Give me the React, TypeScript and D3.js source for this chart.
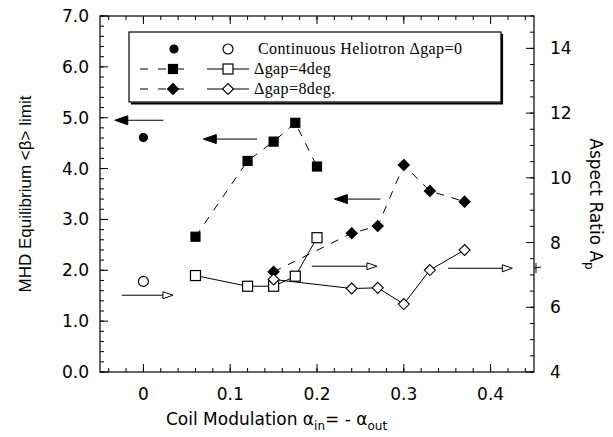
import * as d3 from "d3";
import { useEffect, useRef } from "react";

// coil modulation values for each configuration
const xHelio = [0];
const betaHelio = [4.61];
const aspectHelio = [6.8];

const xGap4 = [0.06, 0.12, 0.15, 0.175, 0.2];
const betaGap4 = [2.66, 4.15, 4.53, 4.9, 4.04];
const aspectGap4 = [6.98, 6.65, 6.65, 6.96, 8.15];

const xGap8 = [0.15, 0.24, 0.27, 0.3, 0.33, 0.37];
const betaGap8 = [1.97, 2.73, 2.87, 4.07, 3.56, 3.35];
const aspectGap8 = [6.86, 6.58, 6.6, 6.1, 7.15, 7.77];

const xTicks = [0, 0.1, 0.2, 0.3, 0.4];
const xTickLabels = ["0", "0.1", "0.2", "0.3", "0.4"];
const leftTicks = [0, 1, 2, 3, 4, 5, 6, 7];
const leftTickLabels = ["0.0", "1.0", "2.0", "3.0", "4.0", "5.0", "6.0", "7.0"];
const rightTicks = [4, 6, 8, 10, 12, 14];

// annotation arrows (x from, x to, beta level); "left" = filled head -> beta axis, "right" = open head -> aspect axis
const arrowFrom = [0.023, 0.131, 0.273, -0.025, 0.194, 0.351];
const arrowTo = [-0.033, 0.069, 0.22, 0.034, 0.269, 0.425];
const arrowLevel = [4.95, 4.58, 3.4, 1.51, 2.08, 2.04];
const arrowKind = ["left", "left", "left", "right", "right", "right"];

export default function App() {
  const ref = useRef<SVGSVGElement | null>(null);

  useEffect(() => {
    const svg = d3.select(ref.current);
    svg.selectAll("*").remove();

    const left = 100,
      right = 534,
      top = 16,
      bottom = 372;
    const x = d3.scaleLinear().domain([-0.05, 0.45]).range([left, right]);
    const yL = d3.scaleLinear().domain([0, 7]).range([bottom, top]);
    const yR = d3.scaleLinear().domain([4, 15]).range([bottom, top]);

    const sans = "'DejaVu Sans', sans-serif";
    const sans2 = "'Liberation Sans', Arial, sans-serif";
    const serif = "'Liberation Serif', 'Times New Roman', serif";

    svg.append("rect").attr("width", 613).attr("height", 437).attr("fill", "#fff");

    // frame
    svg
      .append("rect")
      .attr("x", left)
      .attr("y", top)
      .attr("width", right - left)
      .attr("height", bottom - top)
      .attr("fill", "none")
      .attr("stroke", "#000")
      .attr("stroke-width", 1.2);

    const ticks = svg.append("g").attr("stroke", "#000").attr("stroke-width", 1);

    // x ticks, bottom & top
    d3.range(-2, 23)
      .map((i) => i * 0.02)
      .forEach((v) => {
        ticks.append("line").attr("x1", x(v)).attr("x2", x(v)).attr("y1", bottom).attr("y2", bottom - 4);
        ticks.append("line").attr("x1", x(v)).attr("x2", x(v)).attr("y1", top).attr("y2", top + 4);
      });
    xTicks.forEach((v) => {
      ticks.append("line").attr("x1", x(v)).attr("x2", x(v)).attr("y1", bottom).attr("y2", bottom - 8);
      ticks.append("line").attr("x1", x(v)).attr("x2", x(v)).attr("y1", top).attr("y2", top + 8);
    });

    // left ticks
    d3.range(0, 36)
      .map((i) => i * 0.2)
      .forEach((v) => {
        ticks.append("line").attr("x1", left).attr("x2", left + 4).attr("y1", yL(v)).attr("y2", yL(v));
      });
    leftTicks.forEach((v) => {
      ticks.append("line").attr("x1", left).attr("x2", left + 8).attr("y1", yL(v)).attr("y2", yL(v));
    });

    // right ticks
    d3.range(0, 23)
      .map((i) => 4 + i * 0.5)
      .forEach((v) => {
        ticks.append("line").attr("x1", right).attr("x2", right - 4).attr("y1", yR(v)).attr("y2", yR(v));
      });
    rightTicks.forEach((v) => {
      ticks.append("line").attr("x1", right).attr("x2", right - 8).attr("y1", yR(v)).attr("y2", yR(v));
    });

    // tick labels
    const labels = svg.append("g").style("font-family", sans).style("font-size", "17px").attr("fill", "#000");
    xTicks.forEach((v, i) => {
      labels.append("text").attr("x", x(v)).attr("y", 400).attr("text-anchor", "middle").text(xTickLabels[i]);
    });
    leftTicks.forEach((v, i) => {
      labels
        .append("text")
        .attr("x", 89)
        .attr("y", yL(v) + 6)
        .attr("text-anchor", "end")
        .text(leftTickLabels[i]);
    });
    rightTicks.forEach((v) => {
      labels
        .append("text")
        .attr("x", 550)
        .attr("y", yR(v) + 6)
        .text(String(v));
    });

    // axis titles
    const xt = svg
      .append("text")
      .attr("x", 166)
      .attr("y", 425)
      .style("font-family", sans)
      .style("font-size", "17px");
    xt.append("tspan").text("Coil Modulation α");
    xt.append("tspan").attr("dy", 5).style("font-size", "12px").text("in");
    xt.append("tspan").attr("dy", -5).text("= - α");
    xt.append("tspan").attr("dy", 5).style("font-size", "12px").text("out");

    svg
      .append("text")
      .attr("transform", "translate(31,194) rotate(-90)")
      .attr("text-anchor", "middle")
      .style("font-family", sans2)
      .style("font-size", "17px")
      .text("MHD Equilibrium <β> limit");

    const rt = svg
      .append("text")
      .attr("transform", "translate(590,204) rotate(90)")
      .attr("text-anchor", "middle")
      .style("font-family", sans)
      .style("font-size", "17px");
    rt.append("tspan").text("Aspect Ratio A");
    rt.append("tspan").attr("dy", 5).style("font-size", "12px").text("p");

    // connecting lines
    const drawLine = (xs: number[], ys: number[], scale: d3.ScaleLinear<number, number>, dashed: boolean) => {
      const pts: [number, number][] = xs.map((v, i) => [x(v), scale(ys[i])]);
      svg
        .append("path")
        .attr("d", d3.line()(pts))
        .attr("fill", "none")
        .attr("stroke", "#000")
        .attr("stroke-width", 1)
        .attr("stroke-dasharray", dashed ? "8,8" : null);
    };
    drawLine(xGap4, betaGap4, yL, true);
    drawLine(xGap8, betaGap8, yL, true);
    drawLine(xGap4, aspectGap4, yR, false);
    drawLine(xGap8, aspectGap8, yR, false);

    // markers
    const square = (g: any, cx: number, cy: number, s: number, filled: boolean) =>
      g
        .append("rect")
        .attr("x", cx - s / 2)
        .attr("y", cy - s / 2)
        .attr("width", s)
        .attr("height", s)
        .attr("fill", filled ? "#000" : "#fff")
        .attr("stroke", "#000")
        .attr("stroke-width", 1.2);
    const diamond = (g: any, cx: number, cy: number, r: number, filled: boolean) =>
      g
        .append("path")
        .attr("d", `M${cx},${cy - r}L${cx + r},${cy}L${cx},${cy + r}L${cx - r},${cy}Z`)
        .attr("fill", filled ? "#000" : "#fff")
        .attr("stroke", "#000")
        .attr("stroke-width", 1.1);
    const circle = (g: any, cx: number, cy: number, r: number, filled: boolean) =>
      g
        .append("circle")
        .attr("cx", cx)
        .attr("cy", cy)
        .attr("r", r)
        .attr("fill", filled ? "#000" : "#fff")
        .attr("stroke", "#000")
        .attr("stroke-width", 1.2);

    const marks = svg.append("g");
    xGap4.forEach((v, i) => square(marks, x(v), yL(betaGap4[i]), 9, true));
    xGap8.forEach((v, i) => diamond(marks, x(v), yL(betaGap8[i]), 5.5, true));
    xGap4.forEach((v, i) => square(marks, x(v), yR(aspectGap4[i]), 10, false));
    xGap8.forEach((v, i) => diamond(marks, x(v), yR(aspectGap8[i]), 5.5, false));
    xHelio.forEach((v, i) => circle(marks, x(v), yL(betaHelio[i]), 4, true));
    xHelio.forEach((v, i) => circle(marks, x(v), yR(aspectHelio[i]), 5, false));

    // arrows
    const arrows = svg.append("g");
    arrowFrom.forEach((from, i) => {
      const x1 = x(from),
        x2 = x(arrowTo[i]),
        y = yL(arrowLevel[i]);
      const dir = x2 > x1 ? 1 : -1;
      const len = arrowKind[i] === "left" ? 13 : 10;
      const hw = arrowKind[i] === "left" ? 4.5 : 3.5;
      arrows
        .append("line")
        .attr("x1", x1)
        .attr("x2", x2 - dir * len)
        .attr("y1", y)
        .attr("y2", y)
        .attr("stroke", "#000")
        .attr("stroke-width", 1);
      arrows
        .append("path")
        .attr("d", `M${x2},${y}L${x2 - dir * len},${y - hw}L${x2 - dir * len},${y + hw}Z`)
        .attr("fill", arrowKind[i] === "left" ? "#000" : "#fff")
        .attr("stroke", "#000")
        .attr("stroke-width", 1);
    });
    // little mark on the right axis
    arrows.append("line").attr("x1", right).attr("x2", right + 7).attr("y1", 268).attr("y2", 267).attr("stroke", "#000");
    arrows.append("line").attr("x1", right + 2).attr("x2", right + 2).attr("y1", 263).attr("y2", 273).attr("stroke", "#000");

    // legend
    const lg = svg.append("g");
    lg.append("rect")
      .attr("x", 129)
      .attr("y", 32)
      .attr("width", 372)
      .attr("height", 70)
      .attr("fill", "#fff")
      .attr("stroke", "#000")
      .attr("stroke-width", 1.2);
    lg.append("path").attr("d", "M502,34V103.5H131").attr("fill", "none").attr("stroke", "#000").attr("stroke-width", 2.2);

    const rows = [49, 69, 89];
    circle(lg, 174, rows[0], 4, true);
    circle(lg, 228, rows[0], 5, false);
    [1, 2].forEach((r) => {
      lg.append("line")
        .attr("x1", 140)
        .attr("x2", 186)
        .attr("y1", rows[r])
        .attr("y2", rows[r])
        .attr("stroke", "#000")
        .attr("stroke-dasharray", "8,10");
      lg.append("line")
        .attr("x1", 207)
        .attr("x2", 249)
        .attr("y1", rows[r])
        .attr("y2", rows[r])
        .attr("stroke", "#000");
    });
    square(lg, 173, rows[1], 9, true);
    square(lg, 228, rows[1], 10, false);
    diamond(lg, 173, rows[2], 5.5, true);
    diamond(lg, 228, rows[2], 5.5, false);

    const legendText = ["Continuous Heliotron Δgap=0", "Δgap=4deg", "Δgap=8deg."];
    const legendX = [258, 254, 254];
    legendText.forEach((t, i) => {
      lg.append("text")
        .attr("x", legendX[i])
        .attr("y", rows[i] + 5)
        .style("font-family", serif)
        .style("font-size", "16px")
        .style("letter-spacing", "0.4px")
        .text(t);
    });
  }, []);

  return (
    <div style={{ position: "absolute", left: 0, top: 0 }}>
      <svg ref={ref} width={613} height={437} style={{ display: "block" }}></svg>
    </div>
  );
}
